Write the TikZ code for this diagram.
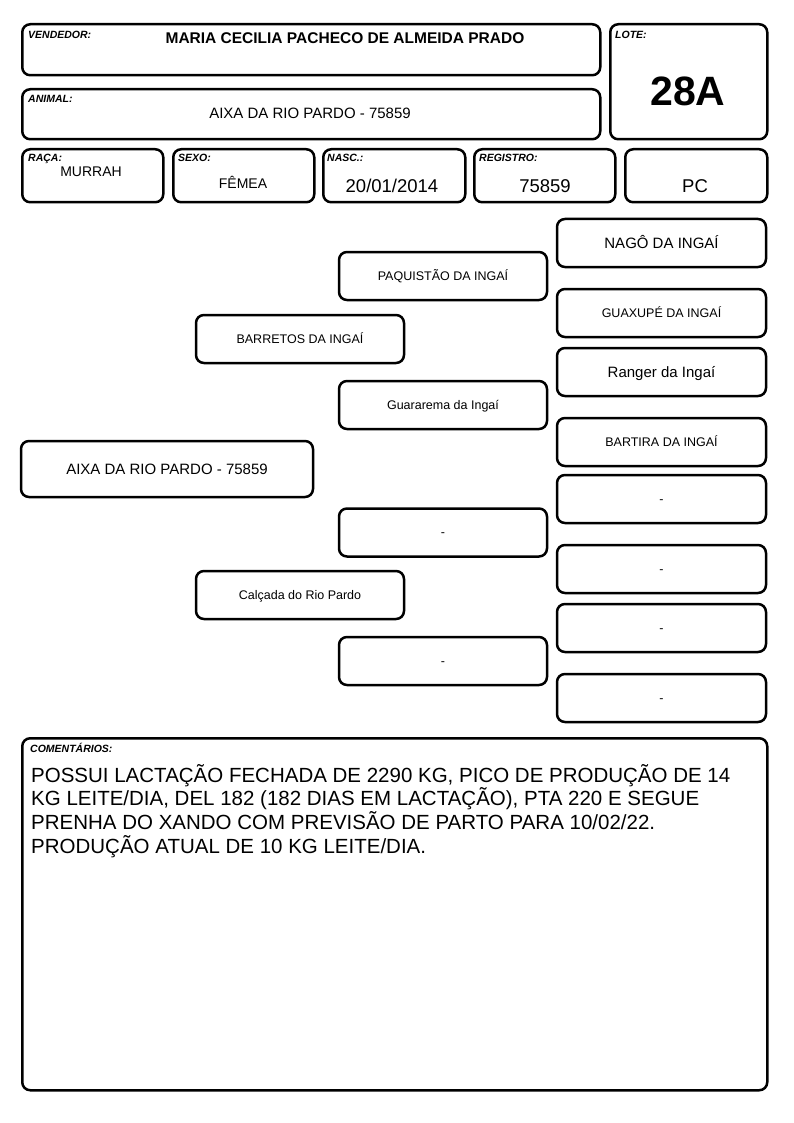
\documentclass[tikz,border=0pt]{standalone}
\usepackage{fontspec}
\setmainfont{Liberation Sans}
\begin{document}
\begin{tikzpicture}[x=1pt,y=-1pt,
  box/.style={draw, line width=2.5pt, rounded corners=8pt, inner sep=0pt, anchor=north west},
  pbox/.style={draw, line width=2.5pt, rounded corners=8pt, inner sep=0pt, minimum height=48pt, text depth=0pt},
  lbl/.style={anchor=base west, inner sep=0pt, font=\fontsize{10.5}{12}\selectfont\bfseries\itshape},
  val/.style={anchor=base, inner sep=0pt},
  big/.style={font=\fontsize{15}{18}\selectfont, text height=10.74pt},
  sml/.style={font=\fontsize{12.5}{15}\selectfont, text height=8.95pt},
  colw/.style={minimum width=209pt}
]
\useasboundingbox (0,0) rectangle (794,1123);

% header boxes
\node[box, minimum width=578pt, minimum height=51pt] (vend) at (21,23) {};
\node[box, minimum width=157pt, minimum height=115pt] (lote) at (609,23) {};
\node[box, minimum width=578pt, minimum height=50pt] (anim) at (21,88) {};
\node[box, minimum width=141pt, minimum height=53pt] (raca) at (21,148) {};
\node[box, minimum width=141pt, minimum height=53pt] (sexo) at (172,148) {};
\node[box, minimum width=142pt, minimum height=53pt] (nasc) at (322,148) {};
\node[box, minimum width=141pt, minimum height=53pt] (regi) at (473,148) {};
\node[box, minimum width=142pt, minimum height=53pt] (pc) at (624,148) {};

\node[lbl] (lvend) at (28,38.5) {VENDEDOR:};
\node[val, font=\fontsize{15.5}{18}\selectfont\bfseries] (tvend) at (345,43.5) {MARIA CECILIA PACHECO DE ALMEIDA PRADO};
\node[lbl] (llote) at (615,38.5) {LOTE:};
\node[val, font=\fontsize{41}{48}\selectfont\bfseries] (tlote) at (688,105.5) {28A};
\node[lbl] (lanim) at (28,102.5) {ANIMAL:};
\node[val, font=\fontsize{15}{18}\selectfont] (tanim) at (310,118.5) {AIXA DA RIO PARDO - 75859};
\node[lbl] (lraca) at (28,161.5) {RAÇA:};
\node[val, font=\fontsize{14}{17}\selectfont] (traca) at (91,177) {MURRAH};
\node[lbl] (lsexo) at (178,161.5) {SEXO:};
\node[val, font=\fontsize{14}{17}\selectfont] (tsexo) at (243,189) {FÊMEA};
\node[lbl] (lnasc) at (327,161.5) {NASC.:};
\node[val, font=\fontsize{18.5}{22}\selectfont] (tnasc) at (392,192.6) {20/01/2014};
\node[lbl] (lregi) at (479,161.5) {REGISTRO:};
\node[val, font=\fontsize{18.5}{22}\selectfont] (tregi) at (545,192.6) {75859};
\node[val, font=\fontsize{18.5}{22}\selectfont] (tpc) at (695,192.6) {PC};

% pedigree
\node[pbox, big, minimum width=292pt, minimum height=56pt] (p0) at (167,469) {AIXA DA RIO PARDO - 75859};
\node[pbox, sml, minimum width=208pt] (p1) at (300,339) {BARRETOS DA INGAÍ};
\node[pbox, sml, minimum width=208pt] (p2) at (300,595) {Calçada do Rio Pardo};
\node[pbox, sml, minimum width=208pt] (p11) at (443,276) {PAQUISTÃO DA INGAÍ};
\node[pbox, sml, minimum width=208pt] (p12) at (443,405) {Guararema da Ingaí};
\node[pbox, sml, minimum width=208pt] (p21) at (443,532.5) {-};
\node[pbox, sml, minimum width=208pt] (p22) at (443,661) {-};
\node[pbox, big, colw] (p111) at (661.5,243) {NAGÔ DA INGAÍ};
\node[pbox, sml, colw] (p112) at (661.5,313) {GUAXUPÉ DA INGAÍ};
\node[pbox, big, colw] (p121) at (661.5,372) {Ranger da Ingaí};
\node[pbox, sml, colw] (p122) at (661.5,442) {BARTIRA DA INGAÍ};
\node[pbox, sml, colw] (p211) at (661.5,499) {-};
\node[pbox, sml, colw] (p212) at (661.5,569) {-};
\node[pbox, sml, colw] (p221) at (661.5,628) {-};
\node[pbox, sml, colw] (p222) at (661.5,698) {-};

% comments
\node[box, minimum width=745pt, minimum height=352pt] (com) at (21,737) {};
\node[lbl] (lcom) at (30,752) {COMENTÁRIOS:};
\node[anchor=base west, inner sep=0pt, font=\fontsize{20.5}{23.7}\selectfont] (tcom) at (31,782) {\parbox[t]{735pt}{\raggedright
POSSUI LACTAÇÃO FECHADA DE 2290 KG, PICO DE PRODUÇÃO DE 14\\
KG LEITE/DIA, DEL 182 (182 DIAS EM LACTAÇÃO), PTA 220 E SEGUE\\
PRENHA DO XANDO COM PREVISÃO DE PARTO PARA 10/02/22.\\
PRODUÇÃO ATUAL DE 10 KG LEITE/DIA.}};
\end{tikzpicture}
\end{document}
